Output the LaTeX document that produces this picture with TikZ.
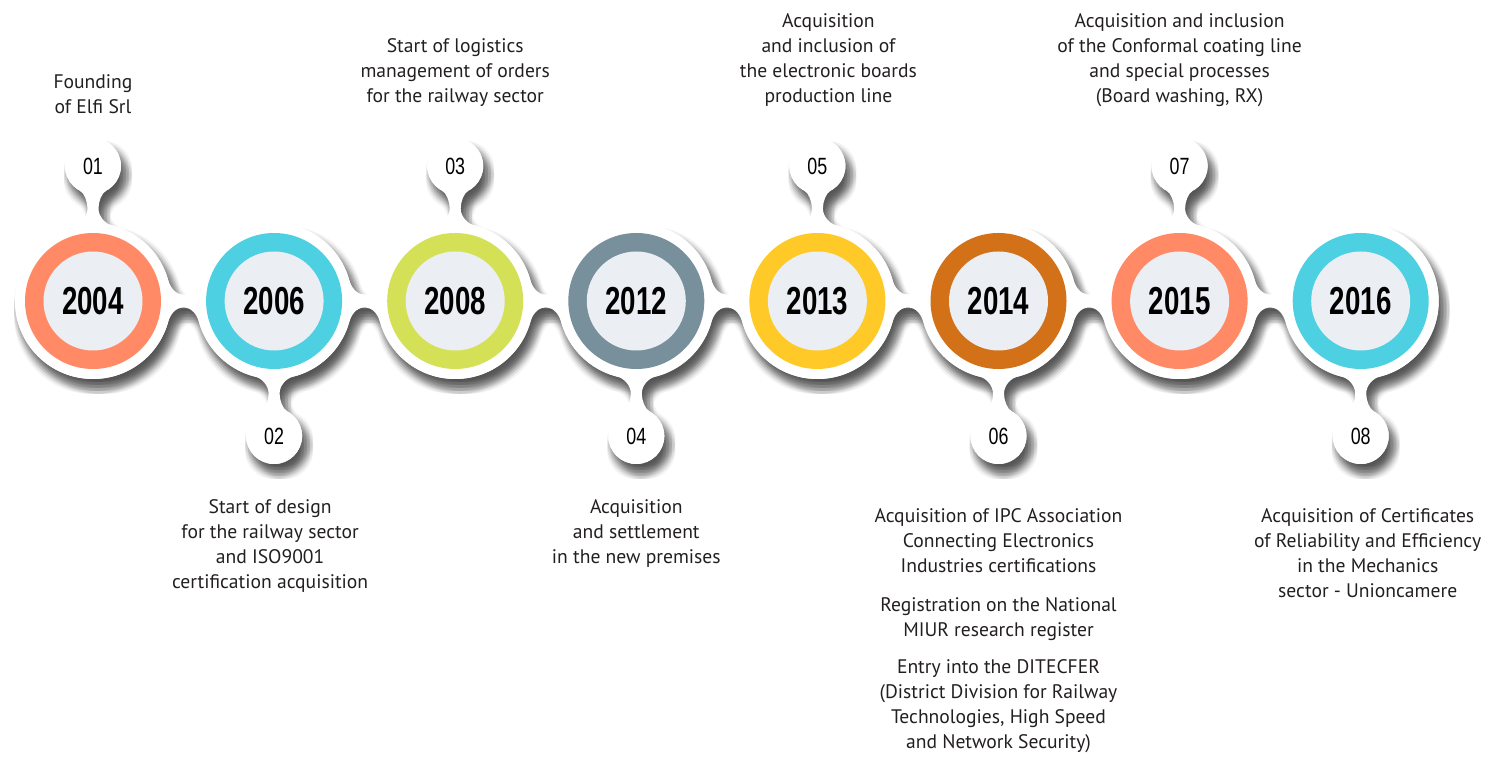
\documentclass[tikz,border=0pt]{standalone}
\usepackage{fontspec}
\usepackage{graphicx}
\setmainfont{PT Sans}
\newfontfamily\numfont{Liberation Sans}
\usetikzlibrary{positioning,calc}
\definecolor{salmon}{HTML}{FF8A65}
\definecolor{cyanring}{HTML}{4DD0E1}
\definecolor{limering}{HTML}{D4E157}
\definecolor{slatering}{HTML}{78909C}
\definecolor{amberring}{HTML}{FFCA28}
\definecolor{rustring}{HTML}{D27118}
\definecolor{disc}{HTML}{EBEEF3}
\definecolor{ink}{HTML}{231F20}

\pgfdeclarelayer{background}
\pgfsetlayers{background,main}

% year label and bubble number
\newcommand{\yearlabel}[1]{\scalebox{0.71}[1]{\numfont\bfseries\fontsize{39}{39}\selectfont #1}}
\newcommand{\numlabel}[1]{\scalebox{0.76}[1]{\numfont\fontsize{23.5}{23.5}\selectfont #1}}

% necks between the white discs
\newcommand{\hneck}[2]{(#1.-16) .. controls +(1.9,6.7) and +(-9,0) .. ($(#1.east)!.5!(#2.west)+(0,-6.5)$)
  .. controls +(9,0) and +(-1.9,6.7) .. (#2.196) -- (#2.164)
  .. controls +(-1.9,-6.7) and +(9,0) .. ($(#1.east)!.5!(#2.west)+(0,6.5)$)
  .. controls +(-9,0) and +(1.9,-6.7) .. (#1.16) -- cycle}
\newcommand{\upneck}[2]{(#1.76) .. controls +(-6.7,1.7) and +(0,-8) .. ($(#1.north)!.5!(#2.south)+(5.5,0)$)
  .. controls +(0,7) and +(-4.4,-2.3) .. (#2.-62) -- (#2.-118)
  .. controls +(4.4,-2.3) and +(0,7) .. ($(#1.north)!.5!(#2.south)+(-5.5,0)$)
  .. controls +(0,-8) and +(6.7,1.7) .. (#1.104) -- cycle}
\newcommand{\downneck}[2]{(#1.-104) .. controls +(6.7,-1.7) and +(0,8) .. ($(#1.south)!.5!(#2.north)+(-5.5,0)$)
  .. controls +(0,-7) and +(4.4,2.3) .. (#2.118) -- (#2.62)
  .. controls +(-4.4,2.3) and +(0,-7) .. ($(#1.south)!.5!(#2.north)+(5.5,0)$)
  .. controls +(0,8) and +(-6.7,-1.7) .. (#1.-76) -- cycle}
\newcommand{\silhouette}{foreach \i in {1,...,8} {(yr\i) circle (78pt) (nb\i) circle (28pt)}
  foreach \i/\j in {1/2,2/3,3/4,4/5,5/6,6/7,7/8} {\hneck{yr\i}{yr\j}}
  foreach \i in {1,3,5,7} {\upneck{yr\i}{nb\i}}
  foreach \i in {2,4,6,8} {\downneck{yr\i}{nb\i}}}

\tikzset{
  year/.style={circle, fill=white, minimum size=156pt, inner sep=0pt, outer sep=0pt, text=black,
    path picture={\fill[#1] (path picture bounding box.center) circle (68pt);
      \fill[disc] (path picture bounding box.center) circle (49.5pt);}},
  bubble/.style={circle, fill=white, minimum size=56pt, inner sep=0pt, outer sep=0pt, text=black},
  event/.style={align=center, inner sep=0pt, text=ink, font=\fontsize{19.6}{25}\selectfont}
}

\begin{document}
\begin{tikzpicture}[x=1pt, y=1pt, node distance=25.1pt]
  \useasboundingbox (0,0) rectangle (1491,760);

  % Years
  \node [year=salmon] (yr1) at (93,459) {\yearlabel{2004}};
  \node [year=cyanring, right=of yr1] (yr2) {\yearlabel{2006}};
  \node [year=limering, right=of yr2] (yr3) {\yearlabel{2008}};
  \node [year=slatering, right=of yr3] (yr4) {\yearlabel{2012}};
  \node [year=amberring, right=of yr4] (yr5) {\yearlabel{2013}};
  \node [year=rustring, right=of yr5] (yr6) {\yearlabel{2014}};
  \node [year=salmon, right=of yr6] (yr7) {\yearlabel{2015}};
  \node [year=cyanring, right=of yr7] (yr8) {\yearlabel{2016}};

  % Number bubbles
  \foreach \i in {1,3,5,7}
    \node [bubble, above=29pt of yr\i] (nb\i) {\numlabel{0\i}};
  \foreach \i in {2,4,6,8}
    \node [bubble, below=29pt of yr\i] (nb\i) {\numlabel{0\i}};

  % Events
  \node [event, above=24pt of nb1] (ev1) {Founding\\of Elfi Srl};
  \node [event, below=35pt of nb2, xshift=-4pt] (ev2) {Start of design\\for the railway sector\\and ISO9001\\certification acquisition};
  \node [event, above=31pt of nb3] (ev3) {Start of logistics\\management of orders\\for the railway sector};
  \node [event, below=35pt of nb4] (ev4) {Acquisition\\and settlement\\in the new premises};
  \node [event, above=31pt of nb5, xshift=11pt] (ev5) {Acquisition\\and inclusion of\\the electronic boards\\production line};
  \node [event, below=44pt of nb6] (ev6) {Acquisition of IPC Association\\Connecting Electronics\\Industries certifications\\[14pt]
    Registration on the National\\MIUR research register\\[12pt]
    Entry into the DITECFER\\(District Division for Railway\\Technologies, High Speed\\and Network Security)};
  \node [event, above=31pt of nb7] (ev7) {Acquisition and inclusion\\of the Conformal coating line\\and special processes\\(Board washing, RX)};
  \node [event, below=44pt of nb8, xshift=7pt] (ev8) {Acquisition of Certificates\\of Reliability and Efficiency\\in the Mechanics\\sector - Unioncamere};

  % White body with its soft shadow
  \begin{pgfonlayer}{background}
    \foreach \dx in {-6,-3,0,3,6} {
      \foreach \dy in {-6,-3,0,3,6} {
        \begin{scope}[transform canvas={xshift=5pt+\dx pt, yshift=-9pt+\dy pt}]
          \fill[black, fill opacity=.045] \silhouette;
        \end{scope}
      }
    }
    \fill[white] \silhouette;
  \end{pgfonlayer}
\end{tikzpicture}
\end{document}
